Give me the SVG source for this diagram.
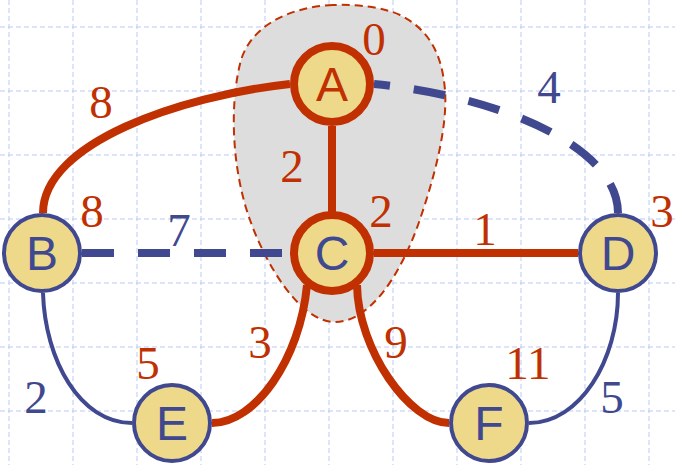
<svg xmlns="http://www.w3.org/2000/svg" width="675" height="465" viewBox="0 0 675 465">
<style>
.grid line{stroke:#bccbf5;stroke-width:1;stroke-dasharray:5 3}
.red{fill:none;stroke:#c03000;stroke-width:8}
.bluedash{fill:none;stroke:#404890;stroke-width:8;stroke-dasharray:32 24}
.blue{fill:none;stroke:#404890;stroke-width:4}
.node{fill:#eed98a}
.nr{stroke:#c03000;stroke-width:8}
.nb{stroke:#404890;stroke-width:4}
.lt{font-family:"Liberation Sans",Arial,sans-serif;font-size:48px;text-anchor:middle}
.lbl{font-family:"Liberation Serif","Times New Roman",serif;font-size:47px;text-anchor:middle}
.cr{fill:#c03000}
.cb{fill:#404890}
</style>
<rect width="675" height="465" fill="#ffffff"/>
<g class="grid">
<line x1="9" y1="0" x2="9" y2="465"/>
<line x1="73" y1="0" x2="73" y2="465"/>
<line x1="137" y1="0" x2="137" y2="465"/>
<line x1="201" y1="0" x2="201" y2="465"/>
<line x1="265" y1="0" x2="265" y2="465"/>
<line x1="329" y1="0" x2="329" y2="465"/>
<line x1="393" y1="0" x2="393" y2="465"/>
<line x1="457" y1="0" x2="457" y2="465"/>
<line x1="521" y1="0" x2="521" y2="465"/>
<line x1="585" y1="0" x2="585" y2="465"/>
<line x1="649" y1="0" x2="649" y2="465"/>
<line x1="0" y1="27" x2="675" y2="27"/>
<line x1="0" y1="91" x2="675" y2="91"/>
<line x1="0" y1="155" x2="675" y2="155"/>
<line x1="0" y1="219" x2="675" y2="219"/>
<line x1="0" y1="283" x2="675" y2="283"/>
<line x1="0" y1="347" x2="675" y2="347"/>
<line x1="0" y1="411" x2="675" y2="411"/>
</g>
<path id="cloud" d="M333,5 C290,7 252,25 241,60 C229,105 232,170 250,220 C266,265 300,322 335,322 C370,322 400,275 418,225 C432,185 448,130 445,90 C442,55 430,30 400,15 C385,8 360,4 333,5 Z" fill="#dddddd" stroke="#c03000" stroke-width="2" stroke-dasharray="8 5"/>
<g id="edges">
<path class="red" d="M290,84 C180,96 43,143 43,213"/>
<path class="red" d="M332,126 L332,212"/>
<path class="bluedash" stroke-dashoffset="16" d="M374,84 C504,97 618,148 618,213"/>
<path class="bluedash" d="M82,253 L290,253"/>
<path class="red" d="M374,253 L578,253"/>
<path class="red" d="M307,285 C300,360 255,423 212,423"/>
<path class="red" d="M357,285 C358,350 410,423 449,423"/>
<path class="blue" d="M43,293 C45,360 80,423 132,423"/>
<path class="blue" d="M618,293 C618,360 580,423 529,423"/>
</g>
<g id="node-A"><circle class="node nr" cx="332" cy="84" r="38"/><text class="lt cr" x="332" y="101">A</text></g>
<g id="node-B"><circle class="node nb" cx="42" cy="253" r="38"/><text class="lt cb" x="42" y="270">B</text></g>
<g id="node-C"><circle class="node nr" cx="332" cy="253" r="38"/><text class="lt cb" x="332" y="270">C</text></g>
<g id="node-D"><circle class="node nb" cx="618" cy="253" r="38"/><text class="lt cb" x="618" y="270">D</text></g>
<g id="node-E"><circle class="node nb" cx="172" cy="423" r="38"/><text class="lt cb" x="172" y="440">E</text></g>
<g id="node-F"><circle class="node nb" cx="489" cy="423" r="38"/><text class="lt cb" x="489" y="440">F</text></g>
<g id="labels">
<text class="lbl cr" x="374" y="55">0</text>
<text class="lbl cr" x="101" y="118">8</text>
<text class="lbl cb" x="549" y="103">4</text>
<text class="lbl cr" x="292" y="182">2</text>
<text class="lbl cr" x="92" y="227">8</text>
<text class="lbl cb" x="179" y="246">7</text>
<text class="lbl cr" x="381" y="227">2</text>
<text class="lbl cr" x="485" y="245">1</text>
<text class="lbl cr" x="662" y="227">3</text>
<text class="lbl cr" x="148" y="379">5</text>
<text class="lbl cr" x="260" y="358">3</text>
<text class="lbl cr" x="396" y="358">9</text>
<text class="lbl cr" x="528" y="379">11</text>
<text class="lbl cb" x="36" y="413">2</text>
<text class="lbl cb" x="612" y="413">5</text>
</g>
</svg>
